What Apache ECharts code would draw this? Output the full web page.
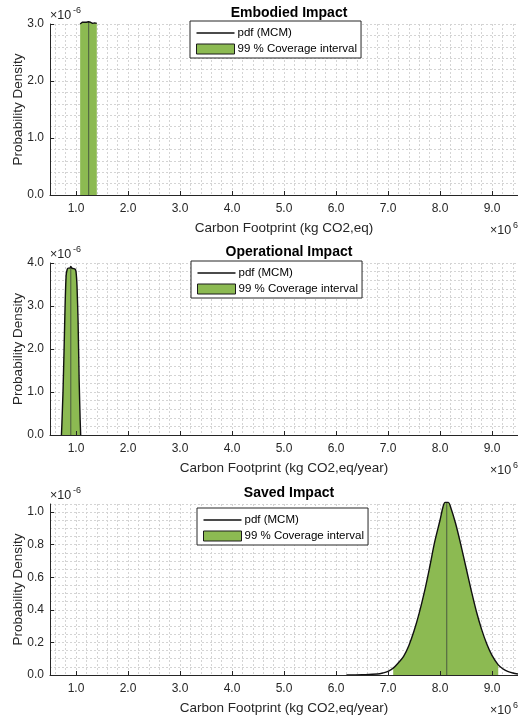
<!DOCTYPE html>
<html>
<head>
<meta charset="utf-8">
<script src="https://cdn.jsdelivr.net/npm/echarts@6/dist/echarts.min.js"></script>
<style>
html,body{margin:0;padding:0;background:#fff;}
#chart{width:518px;height:720px;}
</style>
</head>
<body>
<div id="chart"></div>
<script>
// ---- Data (x in 10^6 kg CO2, density in 10^-6) ----
const titles = ['Embodied Impact', 'Operational Impact', 'Saved Impact'];
const xNames = ['Carbon Footprint (kg CO2,eq)', 'Carbon Footprint (kg CO2,eq/year)', 'Carbon Footprint (kg CO2,eq/year)'];
const xTickLabels = [1, 2, 3, 4, 5, 6, 7, 8, 9];
const yMax = [3.0, 4.0, 1.05];
const yTicks0 = [0, 1, 2, 3];
const yTicks1 = [0, 1, 2, 3, 4];
const yTicks2 = [0, 0.2, 0.4, 0.6, 0.8, 1.0];

// Embodied impact pdf
const xEmb = [1.08, 1.10, 1.12, 1.14, 1.16, 1.18, 1.20, 1.22, 1.24, 1.26, 1.28, 1.30, 1.32, 1.34, 1.36, 1.38, 1.40];
const yEmb = [3.00, 3.02, 3.03, 3.01, 3.03, 3.02, 3.03, 3.01, 3.04, 3.02, 3.03, 3.03, 3.01, 3.03, 3.02, 3.03, 3.01];
const covEmb = [1.08, 1.40];
const meanEmb = [1.244, 3.03];

// Operational impact pdf
const xOp = [0.72, 0.73, 0.75, 0.77, 0.79, 0.81, 0.83, 0.85, 0.88, 0.90, 0.92, 0.95, 0.98, 1.00, 1.02, 1.04, 1.06, 1.08, 1.09];
const yOp = [0, 0.3, 1.0, 1.95, 3.0, 3.7, 3.85, 3.88, 3.88, 3.92, 3.88, 3.87, 3.86, 3.8, 3.45, 2.64, 1.3, 0.35, 0];
const covOp = [0.73, 1.08];
const meanOp = [0.90, 3.92];

// Saved impact pdf
const xSv = [6.2, 6.5, 6.8, 6.9, 7.0, 7.1, 7.2, 7.3, 7.4, 7.5, 7.6, 7.7, 7.8, 7.9, 8.0, 8.06, 8.1, 8.16, 8.2, 8.3, 8.4, 8.5, 8.6, 8.7, 8.8, 8.9, 9.0, 9.12, 9.2, 9.3, 9.4, 9.5];
const ySv = [0, 0.002, 0.006, 0.012, 0.022, 0.042, 0.075, 0.115, 0.18, 0.27, 0.38, 0.51, 0.66, 0.82, 0.95, 1.035, 1.06, 1.06, 1.035, 0.93, 0.80, 0.66, 0.52, 0.39, 0.28, 0.19, 0.12, 0.062, 0.04, 0.022, 0.012, 0.006];
const covSv = [7.1, 9.12];
const meanSv = [8.13, 1.06];

// ---- Styling / layout ----
const FONT = "'Liberation Sans', Arial, Helvetica, sans-serif";
const TXT = '#262626';
const GREEN = '#8cba52';
const GRIDC = '#d4d4d4';
const X_MIN = 0.5, X_MAX = 9.5;
const grids = [
  {left: 50, top: 24, width: 468, height: 171},
  {left: 50, top: 263, width: 468, height: 172},
  {left: 50, top: 504, width: 468, height: 171}
];
const legendPos = [{left: 190, top: 21}, {left: 191, top: 261}, {left: 197, top: 508}];
const yIntervals = [0.2, 0.2, 0.05];
const yTickSets = [yTicks0, yTicks1, yTicks2];
const LINE_ICON = 'path://M0,0h0.01v0.01h-0.01z M0,4.25h38v1.5h-38z M37.99,9.99h0.01v0.01h-0.01z';

const pdfs = [[xEmb, yEmb, covEmb, meanEmb, false], [xOp, yOp, covOp, meanOp, 0.15], [xSv, ySv, covSv, meanSv, 0.35]];

const allGrids = grids.map(g => Object.assign({containLabel: false, outerBoundsMode: 'none'}, g));
const xAxes = [], yAxes = [], yGridAxes = [], xMinorAxes = [], yDummyAxes = [];
const series = [], titleArr = [], legends = [], graphics = [];

// extra (invisible) grids carrying the vertical minor grid lines at multiples of 0.2
const MINOR_LO = 0.4, MINOR_HI = 9.6;
for (let g = 0; g < 3; g++) {
  const gr = grids[g];
  const ppu = gr.width / (X_MAX - X_MIN);
  allGrids.push({containLabel: false, outerBoundsMode: 'none',
    left: gr.left - (X_MIN - MINOR_LO) * ppu, width: (MINOR_HI - MINOR_LO) * ppu, top: gr.top, height: gr.height});
}

for (let g = 0; g < 3; g++) {
  const gr = grids[g];
  xAxes.push({
    type: 'value', gridIndex: g, position: 'bottom', min: X_MIN, max: X_MAX, interval: 0.1,
    name: xNames[g], nameLocation: 'middle', nameGap: 26, nameMoveOverlap: false,
    nameTextStyle: {fontFamily: FONT, fontSize: 13.5, color: TXT},
    axisLine: {show: true, lineStyle: {color: TXT, width: 1}},
    axisTick: {show: true, inside: true, length: 4, customValues: xTickLabels, lineStyle: {color: TXT}},
    axisLabel: {show: true, customValues: xTickLabels, margin: 8, fontFamily: FONT, fontSize: 12, color: TXT,
      formatter: v => Number(v).toFixed(1)},
    splitLine: {show: false}, z: 5
  });
  xMinorAxes.push({
    type: 'value', gridIndex: 3 + g, position: 'bottom', min: MINOR_LO, max: MINOR_HI, interval: 0.2,
    axisLine: {show: false}, axisTick: {show: false}, axisLabel: {show: false},
    splitLine: {show: true, showMinLine: false, showMaxLine: false, lineStyle: {color: GRIDC, type: [2, 2], width: 1}}
  });
  yAxes.push({
    type: 'value', gridIndex: g, position: 'left', min: 0, max: yMax[g], interval: yIntervals[g],
    name: 'Probability Density', nameLocation: 'middle', nameGap: 25, nameMoveOverlap: false,
    nameTextStyle: {fontFamily: FONT, fontSize: 13.5, color: TXT},
    axisLine: {show: true, lineStyle: {color: TXT, width: 1}},
    axisTick: {show: true, inside: true, length: 4, customValues: yTickSets[g], lineStyle: {color: TXT}},
    axisLabel: {show: true, customValues: yTickSets[g], margin: 6, fontFamily: FONT, fontSize: 12, color: TXT,
      formatter: v => Number(v).toFixed(1)},
    splitLine: {show: false}, z: 5
  });
  yGridAxes.push({
    type: 'value', gridIndex: g, position: 'right', min: 0, max: yMax[g], interval: yIntervals[g],
    axisLine: {show: false}, axisTick: {show: false}, axisLabel: {show: false},
    splitLine: {show: true, lineStyle: {color: GRIDC, type: [2, 2], width: 1}}
  });
  yDummyAxes.push({type: 'value', gridIndex: 3 + g, min: 0, max: 1, show: false});

  const [xs, ys, cov, mean, sm] = pdfs[g];
  const pdfData = xs.map((x, i) => [x, ys[i]]);
  const covData = pdfData.filter(p => p[0] >= cov[0] - 1e-9 && p[0] <= cov[1] + 1e-9);
  series.push({
    name: '99 % Coverage interval', type: 'line', xAxisIndex: g, yAxisIndex: g,
    data: covData, symbol: 'none', smooth: sm, clip: false, silent: true,
    lineStyle: {width: 0, color: GREEN}, itemStyle: {color: GREEN},
    areaStyle: {color: GREEN, opacity: 1}, z: 2
  });
  series.push({
    name: 'mean', type: 'line', xAxisIndex: g, yAxisIndex: g,
    data: [[mean[0], 0], [mean[0], mean[1]]], symbol: 'none', clip: false, silent: true,
    lineStyle: {width: 1, color: '#4b5a40'}, z: 3
  });
  series.push({
    name: 'pdf (MCM)', type: 'line', xAxisIndex: g, yAxisIndex: g,
    data: pdfData, symbol: 'none', smooth: sm, clip: false, silent: true,
    lineStyle: {width: 1.4, color: '#111'}, itemStyle: {color: '#111'}, z: 4
  });
  titleArr.push({
    text: titles[g], left: gr.left + gr.width / 2, top: gr.top - 23, textAlign: 'center',
    textStyle: {fontFamily: FONT, fontSize: 14, fontWeight: 'bold', color: '#000'}
  });
  legends.push({
    left: legendPos[g].left, top: legendPos[g].top, orient: 'vertical',
    itemWidth: 38, itemHeight: 10, itemGap: 4, padding: [6, 4, 3, 6],
    backgroundColor: '#fff', borderColor: '#262626', borderWidth: 1, borderRadius: 0,
    selectedMode: false, z: 10,
    textStyle: {fontFamily: FONT, fontSize: 11.5, color: '#000', padding: [0, 0, 0, -2]},
    data: [
      {name: 'pdf (MCM)', icon: LINE_ICON, itemStyle: {color: '#111', borderWidth: 0}},
      {name: '99 % Coverage interval', icon: 'rect', itemStyle: {color: GREEN, borderColor: '#1a1a1a', borderWidth: 1}}
    ]
  });
  // exponent labels
  graphics.push({type: 'text', x: gr.left, y: gr.top - 8, silent: true,
    style: {text: '×10', font: '12.5px ' + FONT, fill: TXT, align: 'left', verticalAlign: 'middle'}});
  graphics.push({type: 'text', x: gr.left + 23, y: gr.top - 13, silent: true,
    style: {text: '-6', font: '9px ' + FONT, fill: TXT, align: 'left', verticalAlign: 'middle'}});
  graphics.push({type: 'text', x: gr.left + gr.width - 28, y: gr.top + gr.height + 36, silent: true,
    style: {text: '×10', font: '12.5px ' + FONT, fill: TXT, align: 'left', verticalAlign: 'middle'}});
  graphics.push({type: 'text', x: gr.left + gr.width - 5, y: gr.top + gr.height + 31, silent: true,
    style: {text: '6', font: '9px ' + FONT, fill: TXT, align: 'left', verticalAlign: 'middle'}});
}

const chart = echarts.init(document.getElementById('chart'), null, {renderer: 'canvas'});
chart.setOption({
  animation: false,
  backgroundColor: '#fff',
  title: titleArr,
  legend: legends,
  grid: allGrids,
  xAxis: xAxes.concat(xMinorAxes),
  yAxis: yAxes.concat(yGridAxes, yDummyAxes),
  series: series,
  graphic: graphics
});
</script>
</body>
</html>
